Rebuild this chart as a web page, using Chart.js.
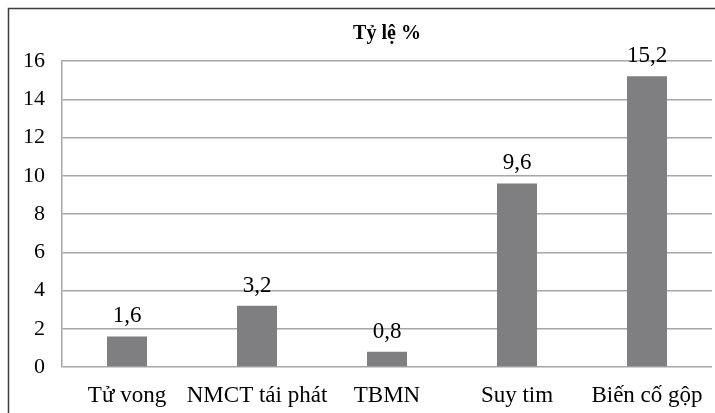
<!DOCTYPE html>
<html>
<head>
<meta charset="utf-8">
<script src="https://cdn.jsdelivr.net/npm/chart.js@4/dist/chart.umd.min.js"></script>
<style>
  html, body { margin: 0; padding: 0; background: #fff; }
  #wrap { width: 715px; height: 413px; position: relative; }
</style>
</head>
<body>
<div id="wrap"><canvas id="c" width="715" height="413"></canvas></div>
<script>
// Categories and rates (%)
const categories = ['Tử vong', 'NMCT tái phát', 'TBMN', 'Suy tim', 'Biến cố gộp'];
const rates = [1.6, 3.2, 0.8, 9.6, 15.2];
const yTicks = [0, 2, 4, 6, 8, 10, 12, 14, 16];
const chartTitle = 'Tỷ lệ %';

const FONT = "'Liberation Serif', 'Times New Roman', serif";

// Frame around the whole chart
const framePlugin = {
  id: 'frame',
  beforeDraw(chart) {
    const ctx = chart.ctx;
    ctx.save();
    ctx.fillStyle = '#fff';
    ctx.fillRect(0, 0, chart.width, chart.height);
    ctx.strokeStyle = '#3c3c3c';
    ctx.lineWidth = 1.5;
    ctx.strokeRect(8.5, 8.5, chart.width + 10, chart.height + 10);
    ctx.restore();
  }
};

// Value labels above each bar, with decimal comma
const valueLabels = {
  id: 'valueLabels',
  afterDatasetsDraw(chart) {
    const ctx = chart.ctx;
    const meta = chart.getDatasetMeta(0);
    ctx.save();
    ctx.font = '23px ' + FONT;
    ctx.fillStyle = '#000';
    ctx.textAlign = 'center';
    ctx.textBaseline = 'alphabetic';
    meta.data.forEach((bar, i) => {
      const txt = String(rates[i]).replace('.', ',');
      ctx.fillText(txt, bar.x, bar.y - 14);
    });
    ctx.restore();
  }
};

new Chart(document.getElementById('c'), {
  type: 'bar',
  data: {
    labels: categories,
    datasets: [{
      data: rates,
      backgroundColor: '#7f7f81',
      borderWidth: 0,
      categoryPercentage: 1,
      barPercentage: 0.3077
    }]
  },
  options: {
    responsive: false,
    animation: false,
    devicePixelRatio: 1,
    layout: { padding: { left: 8, top: 8, right: 3, bottom: 0 } },
    plugins: {
      legend: { display: false },
      tooltip: { enabled: false },
      title: {
        display: true,
        text: chartTitle,
        fullSize: false,
        color: '#000',
        font: { family: FONT, size: 20, weight: 'bold', lineHeight: 1.2 },
        padding: { top: 14, bottom: 15 }
      }
    },
    scales: {
      x: {
        grid: { display: false, drawTicks: false },
        border: { display: false },
        ticks: {
          color: '#000',
          font: { family: FONT, size: 23 },
          padding: 15,
          maxRotation: 0,
          autoSkip: false
        },
        afterFit(scale) {
          scale.height = 46;
          scale.paddingLeft = 0;
          scale.paddingRight = 0;
        }
      },
      y: {
        min: 0,
        max: 16,
        afterBuildTicks(scale) { scale.ticks = yTicks.map(v => ({ value: v })); },
        grid: { color: '#a6a6a6', lineWidth: 1.5, drawTicks: false },
        border: { display: true, color: '#a6a6a6', width: 1.5 },
        ticks: {
          color: '#000',
          font: { family: FONT, size: 22 },
          padding: 17
        },
        afterFit(scale) { scale.width = 54; }
      }
    }
  },
  plugins: [framePlugin, valueLabels]
});
</script>
</body>
</html>
